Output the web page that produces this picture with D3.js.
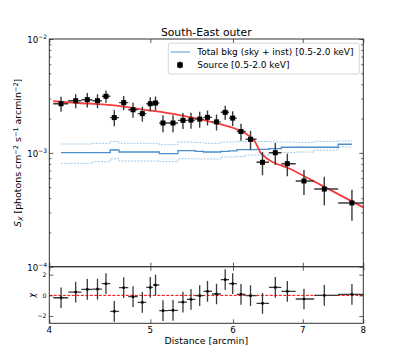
<!DOCTYPE html>
<html><head><meta charset="utf-8">
<script src="https://cdn.jsdelivr.net/npm/d3@7"></script>
<style>body{margin:0;background:#fff}svg{display:block;font-family:"DejaVu Sans",sans-serif}</style>
</head><body><svg id="c" width="407" height="362"></svg>
<script>
// ---- data ----
const title = "South-East outer";
const binEdges = [4.035,4.171,4.294,4.399,4.492,4.576,4.666,4.762,4.862,4.955,5.028,5.099,5.198,5.314,5.421,5.521,5.623,5.729,5.841,5.948,6.051,6.171,6.320,6.496,6.676,6.891,7.178,7.569,8.0];
const binCenters = [4.105,4.240,4.350,4.449,4.533,4.617,4.714,4.812,4.912,4.999,5.057,5.141,5.256,5.373,5.469,5.575,5.672,5.786,5.898,5.996,6.107,6.237,6.404,6.588,6.765,7.018,7.340,7.802];
const sxValues = [2.70e-3,2.87e-3,2.93e-3,2.87e-3,3.14e-3,2.04e-3,2.76e-3,2.39e-3,2.21e-3,2.70e-3,2.74e-3,1.83e-3,1.83e-3,1.93e-3,1.94e-3,1.98e-3,2.05e-3,1.87e-3,2.27e-3,2.02e-3,1.54e-3,1.315e-3,8.26e-4,1.003e-3,8.03e-4,5.66e-4,4.81e-4,3.63e-4];
const sxErrors = [4.05e-4,4.0e-4,4.25e-4,4.0e-4,3.9e-4,3.3e-4,3.9e-4,3.6e-4,3.3e-4,3.8e-4,3.8e-4,3.1e-4,3.1e-4,3.1e-4,3.1e-4,3.2e-4,3.1e-4,3.0e-4,3.2e-4,3.0e-4,2.6e-4,2.5e-4,1.9e-4,2.2e-4,1.8e-4,1.4e-4,1.35e-4,1.1e-4];
const chiValues = [-0.23,0.32,0.58,0.61,1.13,-1.55,0.74,-0.13,-0.68,0.77,1.0,-1.48,-1.45,-0.65,-0.39,-0.03,0.39,0.13,1.52,1.13,0.1,-0.03,-0.77,0.77,0.39,-0.35,0.0,0.1];
const bkgTotal = [1.003e-3,1.003e-3,1.003e-3,1.003e-3,1.003e-3,1.059e-3,1.017e-3,1.017e-3,1.017e-3,1.017e-3,1.017e-3,9.83e-4,9.83e-4,1.044e-3,1.044e-3,1.031e-3,1.017e-3,1.017e-3,1.03e-3,1.04e-3,1.068e-3,1.068e-3,1.074e-3,1.09e-3,1.12e-3,1.12e-3,1.12e-3,1.19e-3];
const bkgUpper = [1.196e-3,1.196e-3,1.196e-3,1.213e-3,1.213e-3,1.258e-3,1.213e-3,1.213e-3,1.213e-3,1.213e-3,1.213e-3,1.179e-3,1.179e-3,1.245e-3,1.245e-3,1.233e-3,1.213e-3,1.213e-3,1.245e-3,1.245e-3,1.258e-3,1.258e-3,1.258e-3,1.245e-3,1.245e-3,1.233e-3,1.258e-3,1.271e-3];
const bkgLower = [8.09e-4,8.09e-4,8.09e-4,8.36e-4,8.36e-4,8.88e-4,8.48e-4,8.48e-4,8.48e-4,8.48e-4,8.48e-4,8.36e-4,8.36e-4,8.88e-4,8.88e-4,8.83e-4,8.83e-4,8.83e-4,9.19e-4,9.19e-4,9.29e-4,9.58e-4,9.58e-4,9.97e-4,1.007e-3,1.017e-3,1.059e-3,1.126e-3];
const modelX = [4.035,4.264,4.591,4.941,5.318,5.641,5.938,6.071,6.230,6.299,6.345,6.383,6.850,7.351,8.0];
const modelY = [2.84e-3,2.74e-3,2.62e-3,2.39e-3,2.16e-3,1.93e-3,1.71e-3,1.59e-3,1.39e-3,1.25e-3,1.10e-3,9.91e-4,7.04e-4,5.00e-4,3.32e-4];
const xTicks = [4,5,6,7,8];
const yMajor = [1e-4,1e-3,1e-2];
const yMajorExp = ["\u22124","\u22123","\u22122"];
const chiTicks = [-2,0,2];
const legendLabels = ["Total bkg (sky + inst) [0.5-2.0 keV]","Source [0.5-2.0 keV]"];

// ---- layout ----
const L=49.3,R=363.3,T=39,M=266.7,B=323.3;
const svg=d3.select("#c");
const x=d3.scaleLog().domain([4,8]).range([L,R]);
const y=d3.scaleLog().domain([1e-4,1e-2]).range([M,T]);
const yc=d3.scaleLinear().domain([-2.7,2.77]).range([B,M]);
const axisCol="#333", errCol="#3a3a3a";

// clip
const defs=svg.append("defs");
defs.append("clipPath").attr("id","ct").append("rect").attr("x",L).attr("y",T).attr("width",R-L).attr("height",M-T);
defs.append("clipPath").attr("id","cb").append("rect").attr("x",L).attr("y",M).attr("width",R-L).attr("height",B-M);

const gT=svg.append("g").attr("clip-path","url(#ct)");
const gB=svg.append("g").attr("clip-path","url(#cb)");

// background step lines
function stepPts(vals){
  const pts=[[binCenters[0],vals[0]]];
  for(let i=1;i<vals.length;i++) pts.push([binEdges[i],vals[i]]);
  pts.push([binCenters[binCenters.length-1],vals[vals.length-1]]);
  return pts;
}
const stepLine=d3.line().x(d=>x(d[0])).y(d=>y(d[1])).curve(d3.curveStepAfter);
gT.append("path").attr("d",stepLine(stepPts(bkgUpper))).attr("fill","none").attr("stroke","#9ecae8").attr("stroke-width",1).attr("stroke-dasharray","2,1.2");
gT.append("path").attr("d",stepLine(stepPts(bkgLower))).attr("fill","none").attr("stroke","#9ecae8").attr("stroke-width",1).attr("stroke-dasharray","2,1.2");
gT.append("path").attr("d",stepLine(stepPts(bkgTotal))).attr("fill","none").attr("stroke","#4a8fc9").attr("stroke-width",1.3);

// model
gT.append("path").attr("d",d3.line().x((d,i)=>x(modelX[i])).y((d,i)=>y(modelY[i])).curve(d3.curveMonotoneX)(modelX))
  .attr("fill","none").attr("stroke","#f53b3b").attr("stroke-width",1.8);

// data errorbars
sxValues.forEach((v,i)=>{
  const g=gT.append("g");
  g.append("line").attr("x1",x(binEdges[i])).attr("x2",x(binEdges[i+1])).attr("y1",y(v)).attr("y2",y(v)).attr("stroke",errCol).attr("stroke-width",1.4);
  g.append("line").attr("x1",x(binCenters[i])).attr("x2",x(binCenters[i])).attr("y1",y(v+sxErrors[i])).attr("y2",y(Math.max(v-sxErrors[i],1e-5))).attr("stroke",errCol).attr("stroke-width",1.4);
  g.append("rect").attr("x",x(binCenters[i])-2.5).attr("y",y(v)-2.5).attr("width",5).attr("height",5).attr("fill","#000");
});

// residuals
gB.append("line").attr("x1",L).attr("x2",R).attr("y1",yc(0)).attr("y2",yc(0)).attr("stroke","#f00").attr("stroke-width",1).attr("stroke-dasharray","3,1.5");
chiValues.forEach((v,i)=>{
  const g=gB.append("g");
  g.append("line").attr("x1",x(binEdges[i])).attr("x2",x(binEdges[i+1])).attr("y1",yc(v)).attr("y2",yc(v)).attr("stroke",errCol).attr("stroke-width",1.3);
  g.append("line").attr("x1",x(binCenters[i])).attr("x2",x(binCenters[i])).attr("y1",yc(v+1)).attr("y2",yc(v-1)).attr("stroke",errCol).attr("stroke-width",1.3);
  g.append("rect").attr("x",x(binCenters[i])-1.2).attr("y",yc(v)-1.2).attr("width",2.4).attr("height",2.4).attr("fill","#000");
});

// ticks (inward) via d3 axes
function inAxis(axisFn, scale, vals, size, transform){
  svg.append("g").attr("transform",transform)
    .call(axisFn(scale).tickValues(vals).tickSize(size).tickFormat(""))
    .call(g=>{g.select(".domain").remove();g.selectAll("line").attr("stroke",axisCol).attr("stroke-width",0.8);});
}
const yMinor=[];
[1e-4,1e-3].forEach(d=>{for(let k=2;k<=9;k++) yMinor.push(d*k);});
inAxis(d3.axisLeft,y,yMajor,-4,`translate(${L},0)`);
inAxis(d3.axisRight,y,yMajor,-4,`translate(${R},0)`);
inAxis(d3.axisLeft,y,yMinor,-2,`translate(${L},0)`);
inAxis(d3.axisRight,y,yMinor,-2,`translate(${R},0)`);
inAxis(d3.axisBottom,x,xTicks,-4,`translate(0,${M})`);
inAxis(d3.axisTop,x,xTicks,-4,`translate(0,${T})`);
inAxis(d3.axisBottom,x,xTicks,-4,`translate(0,${B})`);
inAxis(d3.axisTop,x,xTicks,-4,`translate(0,${M})`);
inAxis(d3.axisLeft,yc,chiTicks,-4,`translate(${L},0)`);
inAxis(d3.axisRight,yc,chiTicks,-4,`translate(${R},0)`);

// frames
svg.append("rect").attr("x",L).attr("y",T).attr("width",R-L).attr("height",M-T).attr("fill","none").attr("stroke",axisCol).attr("stroke-width",1);
svg.append("rect").attr("x",L).attr("y",M).attr("width",R-L).attr("height",B-M).attr("fill","none").attr("stroke",axisCol).attr("stroke-width",1);

// tick labels
yMajor.forEach((v,i)=>{
  const t=svg.append("text").attr("x",47).attr("y",y(v)+4.3).attr("text-anchor","end").attr("font-size",8.6).attr("fill","#000");
  t.append("tspan").text("10");
  t.append("tspan").attr("dy",-4).attr("font-size",6).text(yMajorExp[i]);
});
xTicks.forEach(v=>{
  svg.append("text").attr("x",x(v)).attr("y",332.7).attr("text-anchor","middle").attr("font-size",8.7).attr("fill","#000").text(v);
});
chiTicks.forEach(v=>{
  svg.append("text").attr("x",46.5).attr("y",yc(v)+2.2).attr("text-anchor","end").attr("font-size",6.2).attr("fill","#000").text(v<0?"\u2212"+Math.abs(v):v);
});

// title & labels
svg.append("text").attr("x",(L+R)/2).attr("y",35.5).attr("text-anchor","middle").attr("font-size",10.8).attr("fill","#000").text(title);
svg.append("text").attr("x",(L+R)/2).attr("y",344).attr("text-anchor","middle").attr("font-size",9.4).attr("fill","#000").text("Distance [arcmin]");
const yl=svg.append("text").attr("transform",`translate(21,${(T+M)/2}) rotate(-90)`).attr("text-anchor","middle").attr("font-size",9.4).attr("fill","#000");
yl.append("tspan").attr("font-style","italic").text("S");
yl.append("tspan").attr("font-style","italic").attr("font-size",6.6).attr("dy",2).text("X");
yl.append("tspan").attr("dy",-2).text(" [photons cm");
yl.append("tspan").attr("font-size",6.6).attr("dy",-3.5).text("\u22122");
yl.append("tspan").attr("dy",3.5).text(" s");
yl.append("tspan").attr("font-size",6.6).attr("dy",-3.5).text("\u22121");
yl.append("tspan").attr("dy",3.5).text(" arcmin");
yl.append("tspan").attr("font-size",6.6).attr("dy",-3.5).text("\u22122");
yl.append("tspan").attr("dy",3.5).text("]");
svg.append("text").attr("transform",`translate(35,${yc(0)}) rotate(-90)`).attr("text-anchor","middle").attr("font-size",8).attr("font-style","italic").attr("fill","#000").text("\u03c7");

// legend
const lg=svg.append("g");
lg.append("rect").attr("x",168.3).attr("y",43.3).attr("width",191).attr("height",30.7).attr("rx",2).attr("fill","#fff").attr("stroke","#cccccc").attr("stroke-width",0.8);
lg.append("line").attr("x1",170.7).attr("x2",190).attr("y1",52).attr("y2",52).attr("stroke","#a9cde8").attr("stroke-width",2);
lg.append("text").attr("x",197.3).attr("y",55.3).attr("font-size",9).attr("fill","#000").text(legendLabels[0]);
lg.append("line").attr("x1",177).attr("x2",183).attr("y1",65).attr("y2",65).attr("stroke",errCol).attr("stroke-width",1.4);
lg.append("line").attr("x1",180).attr("x2",180).attr("y1",61.5).attr("y2",68.5).attr("stroke",errCol).attr("stroke-width",1.4);
lg.append("rect").attr("x",177.3).attr("y",62.3).attr("width",5.4).attr("height",5.4).attr("fill","#000");
lg.append("text").attr("x",197.3).attr("y",68.3).attr("font-size",9).attr("fill","#000").text(legendLabels[1]);
</script></body></html>
